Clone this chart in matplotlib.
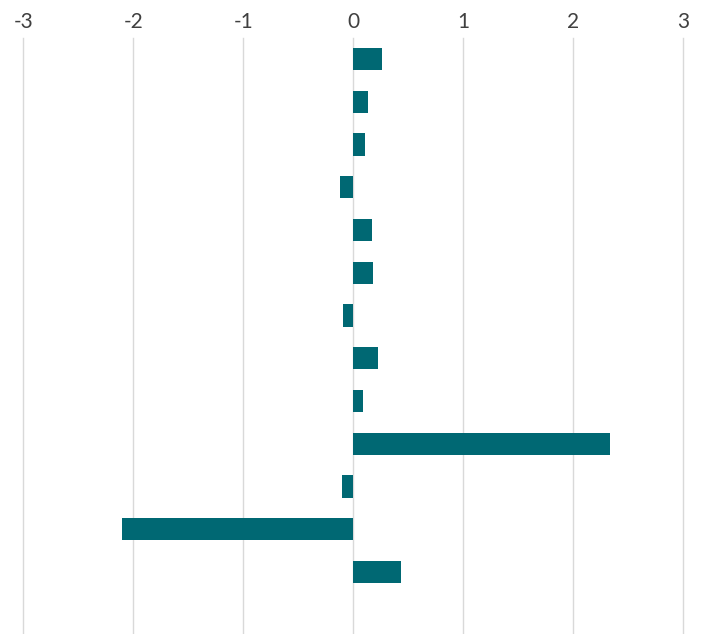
import matplotlib
matplotlib.use("Agg")
import matplotlib.pyplot as plt

categories = ["c1", "c2", "c3", "c4", "c5", "c6", "c7", "c8", "c9", "c10", "c11", "c12", "c13"]
values = [0.26, 0.13, 0.11, -0.12, 0.17, 0.18, -0.09, 0.22, 0.09, 2.33, -0.10, -2.10, 0.43]
xticks = [-3, -2, -1, 0, 1, 2, 3]

fig = plt.figure(figsize=(7.02, 6.34), dpi=100)
W, H = 702, 634
left, right, top, bottom = 23.3, 683.3, 37.6, 636
ax = fig.add_axes([left / W, 1 - bottom / H, (right - left) / W, (bottom - top) / H])

pos = list(range(len(categories)))
ax.barh(pos, values, height=0.52, color="#006873", zorder=3)
ax.set_ylim(len(categories) + 0.5, -0.5)
ax.set_xlim(-3, 3)
ax.set_xticks(xticks)
ax.set_xticklabels([str(t) for t in xticks])
ax.xaxis.tick_top()
ax.tick_params(axis="x", length=0, pad=4, labelsize=15, labelcolor="#404040")
ax.set_yticks([])
ax.grid(axis="x", color="#d9d9d9", linewidth=1, zorder=0)
for gl in ax.get_xgridlines():
    gl.set_clip_on(False)
for s in ax.spines.values():
    s.set_visible(False)
for lbl in ax.get_xticklabels():
    lbl.set_family(["Lato", "DejaVu Sans"])

fig.savefig("out.png", dpi=100)
